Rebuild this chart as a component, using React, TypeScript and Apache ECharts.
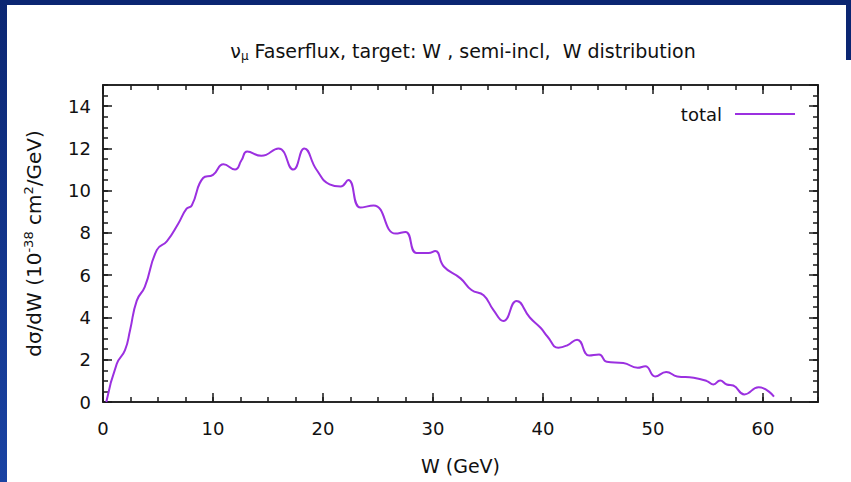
import React, { useEffect, useRef } from "react";
import * as echarts from "echarts";

// W (GeV) sample positions
const W_GEV = [
  0.3, 1.25, 2.0, 2.46, 3.07, 3.8, 4.9, 5.8, 6.85, 7.6, 8.07, 9.1, 10.0, 10.95, 12.0,
  12.6, 13.1, 14.4, 15.95, 17.3, 18.3, 19.4, 20.6, 21.6, 22.3, 23.4, 24.6, 26.6, 27.5, 28.5,
  29.6, 30.2, 31.0, 32.5, 33.5, 34.6, 35.5, 36.4, 37.6, 38.8, 39.8, 40.4, 41.4, 42.2,
  43.1, 44.2, 45.1, 45.8, 47.3, 48.6, 49.3, 50.2, 51.2, 52.2, 53.7, 54.9, 55.5, 56.1,
  56.7, 57.3, 58.3, 59.6, 61.0,
];
// dσ/dW (10^-38 cm^2/GeV)
const DSIGMA_DW = [
  0.0, 1.8, 2.45, 3.4, 4.8, 5.45, 7.2, 7.6, 8.45, 9.15, 9.3, 10.6, 10.75, 11.25, 11.0,
  11.45, 11.85, 11.65, 12.0, 11.0, 12.0, 11.0, 10.3, 10.2, 10.5, 9.2, 9.3, 7.97, 8.05, 7.05,
  7.05, 7.15, 6.4, 5.85, 5.3, 5.05, 4.35, 3.83, 4.78, 4.0, 3.5, 3.1, 2.57, 2.68,
  2.95, 2.2, 2.25, 1.9, 1.85, 1.62, 1.69, 1.21, 1.42, 1.21, 1.15, 0.99, 0.83, 1.02,
  0.83, 0.78, 0.36, 0.7, 0.26,
];
const SERIES_NAME = "total";
const X_MIN = 0;
const X_MAX = 65;
const X_MAJOR = 10;
const X_MINOR = 2.5;
const Y_MIN = 0;
const Y_MAX = 15;
const Y_MAJOR = 2;
const Y_MINOR = 0.5;

const FONT = "DejaVu Sans";
const AXIS_COLOR = "#1a1a1a";
const LINE_COLOR = "#9b30e0";
const TEXT_COLOR = "#111";

export default function App() {
  const ref = useRef<HTMLDivElement>(null);

  useEffect(() => {
    document.body.style.margin = "0";
    if (!ref.current) return;
    const chart = echarts.init(ref.current, null, { renderer: "svg" });

    const data = W_GEV.map((w, i) => [w, DSIGMA_DW[i]]);

    const axisLine = { show: true, onZero: false, lineStyle: { color: AXIS_COLOR, width: 1.5 } };
    const mkX = (position: string, interval: number, len: number, labels: boolean, extra: any = {}) => ({
      type: "value",
      min: X_MIN,
      max: X_MAX,
      interval,
      position,
      axisLine,
      axisTick: { show: true, inside: true, length: len, lineStyle: { color: AXIS_COLOR, width: 1.5 } },
      axisLabel: labels
        ? { show: true, showMaxLabel: false, fontFamily: FONT, fontSize: 18, color: TEXT_COLOR, margin: 17 }
        : { show: false },
      splitLine: { show: false },
      ...extra,
    });
    const mkY = (position: string, interval: number, len: number, labels: boolean, extra: any = {}) => ({
      type: "value",
      min: Y_MIN,
      max: Y_MAX,
      interval,
      position,
      axisLine,
      axisTick: { show: true, inside: true, length: len, lineStyle: { color: AXIS_COLOR, width: 1.5 } },
      axisLabel: labels
        ? { show: true, showMaxLabel: false, fontFamily: FONT, fontSize: 18, color: TEXT_COLOR, margin: 12 }
        : { show: false },
      splitLine: { show: false },
      ...extra,
    });

    chart.setOption({
      animation: false,
      backgroundColor: "#ffffff",
      title: {
        text: "{n|ν}{sub|μ}{n| Faserflux, target: W , semi-incl,  W distribution}",
        left: 458,
        top: 34,
        textAlign: "center",
        textStyle: {
          fontWeight: "normal",
          rich: {
            n: { fontFamily: FONT, fontSize: 19, color: TEXT_COLOR, fontWeight: "normal" },
            sub: { fontFamily: FONT, fontSize: 12, color: TEXT_COLOR, fontWeight: "normal", padding: [11, 0, 0, 0] },
          },
        },
      },
      legend: {
        data: [SERIES_NAME],
        align: "right",
        right: 51,
        top: 100,
        icon: "rect",
        itemWidth: 60,
        itemHeight: 2,
        textStyle: { fontFamily: FONT, fontSize: 18, color: TEXT_COLOR, padding: [0, 8, 0, 0] },
      },
      grid: { left: 103, right: 33, top: 85, bottom: 80, containLabel: false },
      xAxis: [
        mkX("bottom", X_MAJOR, 9, true, {
          name: "W (GeV)",
          nameLocation: "middle",
          nameGap: 54,
          nameTextStyle: { fontFamily: FONT, fontSize: 19, color: TEXT_COLOR },
        }),
        mkX("bottom", X_MINOR, 5, false),
        mkX("top", X_MAJOR, 9, false),
        mkX("top", X_MINOR, 5, false),
      ],
      yAxis: [
        mkY("left", Y_MAJOR, 9, true, {
          name: "dσ/dW (10{sup|-38} cm{sup|2}/GeV)",
          nameLocation: "middle",
          nameRotate: 90,
          nameGap: 58,
          nameTextStyle: {
            fontFamily: FONT,
            fontSize: 20,
            color: TEXT_COLOR,
            rich: {
              sup: { fontFamily: FONT, fontSize: 13, color: TEXT_COLOR, padding: [0, 0, 10, 0] },
            },
          },
        }),
        mkY("left", Y_MINOR, 5, false),
        mkY("right", Y_MAJOR, 9, false),
        mkY("right", Y_MINOR, 5, false),
      ],
      graphic: [
        { type: "rect", shape: { x: 0, y: 0, width: 851, height: 5 }, style: { fill: "#0b2672" }, silent: true },
        {
          type: "rect",
          shape: { x: 0, y: 0, width: 7, height: 482 },
          style: {
            fill: new echarts.graphic.LinearGradient(0, 0, 0, 1, [
              { offset: 0, color: "#0b2672" },
              { offset: 1, color: "#1a43a3" },
            ]),
          },
          silent: true,
        },
        { type: "rect", shape: { x: 846, y: 0, width: 5, height: 60 }, style: { fill: "#0b2672" }, silent: true },
      ],
      series: [
        {
          name: SERIES_NAME,
          type: "line",
          xAxisIndex: 0,
          yAxisIndex: 0,
          data,
          smooth: 0.5,
          showSymbol: false,
          symbol: "none",
          lineStyle: { color: LINE_COLOR, width: 2 },
          itemStyle: { color: LINE_COLOR },
        },
      ],
    });

    return () => chart.dispose();
  }, []);

  return <div ref={ref} style={{ width: 851, height: 482 }} />;
}
